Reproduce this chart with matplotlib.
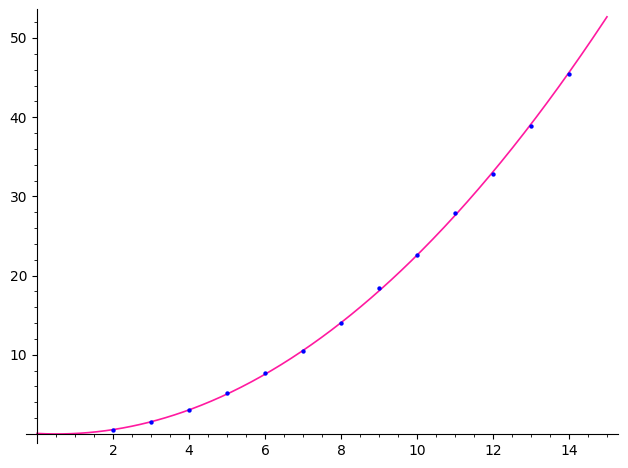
import numpy as np
import matplotlib
matplotlib.use("Agg")
import matplotlib.pyplot as plt
from matplotlib.ticker import MultipleLocator

# data points
x_pts = [2, 3, 4, 5, 6, 7, 8, 9, 10, 11, 12, 13, 14]
y_pts = [0.5, 1.5, 3.0, 5.2, 7.7, 10.5, 14.0, 18.4, 22.6, 27.9, 32.8, 38.9, 45.4]

# fitted curve domain
curve_range = [0, 15]

fig = plt.figure(figsize=(6.28, 4.68), dpi=100)
ax = fig.add_axes([26/628, 25/468, (618-26)/628, (443-9)/468])

# fit y = (s*(x - h))**2 : linear least squares on sqrt(y)
xa = np.array(x_pts, float)
ya = np.array(y_pts, float)
s, c = np.polyfit(xa, np.sqrt(ya), 1)
xs = np.linspace(curve_range[0], curve_range[1], 400)
ax.plot(xs, (s * xs + c)**2, color='#ff1aa0', lw=1.2, zorder=2)
ax.scatter(x_pts, y_pts, s=10, color='blue', zorder=3, linewidths=0)

ax.set_xlim(-0.289, 15.29)
ax.set_ylim(-1.14, 53.66)

ax.spines['left'].set_position(('data', 0))
ax.spines['bottom'].set_position(('data', 0))
ax.spines['top'].set_visible(False)
ax.spines['right'].set_visible(False)

ax.xaxis.set_major_locator(MultipleLocator(2))
ax.xaxis.set_minor_locator(MultipleLocator(0.5))
ax.yaxis.set_major_locator(MultipleLocator(10))
ax.yaxis.set_minor_locator(MultipleLocator(2))

ax.set_xticks([2, 4, 6, 8, 10, 12, 14])
ax.set_yticks([10, 20, 30, 40, 50])

fig.savefig("out.png", dpi=100)
